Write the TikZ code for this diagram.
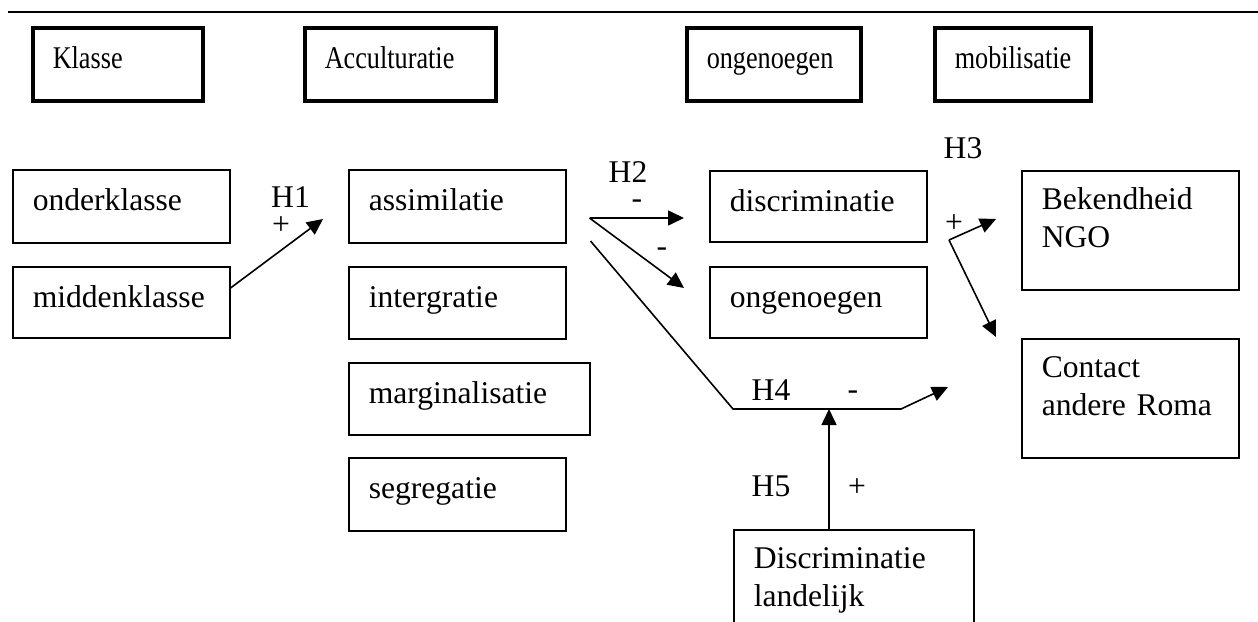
\documentclass[tikz,border=0pt]{standalone}
\usepackage{fontspec}
\usepackage{graphicx}
\setmainfont{Liberation Serif}
\usetikzlibrary{arrows.meta,calc}
\newcommand{\hdtext}[1]{\scalebox{0.83}[1]{#1}}
\begin{document}
\begin{tikzpicture}[x=0.5pt,y=-0.5pt,
  font=\fontsize{15.8pt}{19pt}\selectfont,
  box/.style={draw,line width=0.75pt,anchor=north west,inner xsep=10pt,inner ysep=0pt,align=left},
  onebox/.style={box,text height=20.5pt},
  twobox/.style={box,text height=19.5pt},
  headbox/.style={box,line width=1.75pt,text height=20.5pt,text depth=16pt},
  arr/.style={line width=0.8pt,-{Triangle[length=8pt,width=7.5pt]}},
  lbl/.style={anchor=base,inner sep=0pt}]
\clip (0,0) rectangle (1258,621);
\draw[line width=1pt] (8,12) -- (1258,12);

% header boxes
\node[headbox,text width=65pt] (klasse) at (31,26) {\hdtext{Klasse}};
\node[headbox,text width=75.5pt] (accult) at (303,26) {\hdtext{Acculturatie}};
\node[headbox,text width=67pt] (ongtop) at (685,26) {\hdtext{ongenoegen}};
\node[headbox,text width=58pt] (mobil) at (933,26) {\hdtext{mobilisatie}};

% column 1
\node[onebox,text width=88.5pt,text depth=16pt] (ok) at (12,169) {onderklasse};
\node[onebox,text width=88.5pt,text depth=15pt] (mk) at (12,266) {middenklasse};

% column 2
\node[onebox,text width=88.5pt,text depth=16pt] (assim) at (348,169) {assimilatie};
\node[onebox,text width=88.5pt,text depth=15.5pt] (integ) at (348,266) {intergratie};
\node[onebox,text width=100.5pt,text depth=15.5pt] (margi) at (348,362) {marginalisatie};
\node[onebox,text width=88.5pt,text depth=16pt] (segre) at (348,457) {segregatie};

% column 3
\node[onebox,text width=88.5pt,text depth=15pt] (discr) at (709,170) {discriminatie};
\node[onebox,text width=88.5pt,text depth=15pt] (ongen) at (709,266) {ongenoegen};
\node[twobox,text width=100pt,text depth=45.5pt] (dl) at (733,529) {Discriminatie\\landelijk};

% column 4
\node[twobox,text width=88.5pt,text depth=40pt] (ngo) at (1021,170) {Bekendheid\\NGO};
\node[twobox,text width=88.5pt,text depth=40pt] (roma) at (1021,338) {Contact\\andere Roma};

% H1
\coordinate (h1end) at (323,219);
\draw[arr] ($(mk.north east)+(0,22)$) -- (h1end);
\node[lbl] (h1) at (290.5,207) {H1};
\node[lbl] (h1s) at (281,234) {+};

% H2
\coordinate (h2s) at ($(assim.north east)+(23,49)$);
\coordinate (h2a) at (684,218);
\coordinate (h2b) at (684,288);
\draw[arr] (h2s) -- (h2a);
\draw[arr] (h2s) -- (h2b);
\node[lbl] (h2) at (628,182) {H2};
\node[lbl] (h2sa) at (637,208) {-};
\node[lbl] (h2sb) at (662,256) {-};

% H3
\coordinate (h3s) at (949,240);
\coordinate (h3a) at (996,219);
\coordinate (h3b) at (996,337);
\draw[arr] (h3s) -- (h3a);
\draw[arr] (h3s) -- (h3b);
\node[lbl] (h3) at (963,158) {H3};
\node[lbl] (h3sg) at (954,232) {+};

% H4
\coordinate (h4s) at ($(assim.north east)+(24,72)$);
\coordinate (h4k) at (733,409);
\coordinate (h4mid) at (829,409);
\coordinate (h4r) at (901,409);
\coordinate (h4e) at (948,387);
\draw[arr] (h4s) -- (h4k) -- (h4r) -- (h4e);
\node[lbl] (h4) at (771,400) {H4};
\node[lbl] (h4sg) at (853,399) {-};

% H5
\draw[arr] ($(dl.north west)+(96,0)$) -- (h4mid);
\node[lbl] (h5) at (771,496) {H5};
\node[lbl] (h5sg) at (857,496) {+};
\end{tikzpicture}
\end{document}
